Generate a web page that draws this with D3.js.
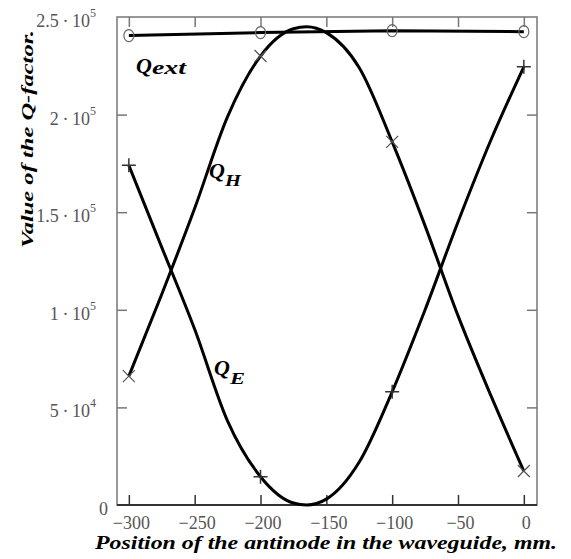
<!DOCTYPE html>
<html>
<head>
<meta charset="utf-8">
<script src="https://cdn.jsdelivr.net/npm/d3@7"></script>
<style>
	body { margin: 0; background: #fff; }
	text { font-family: "Liberation Serif", "Times New Roman", serif; }
</style>
</head>
<body>
<div></div>
<script>
var width = 571;
var height = 559;

// positions of the antinode, mm
var positions = [-300, -275, -250, -225, -200, -175, -165, -150, -125, -100, -75, -50, -25, 0];
// Q_H and Q_E
var qH = [66000, 108000, 152000, 199000, 230000, 244000, 245000, 242000, 224000, 186000, 143000, 97000, 56000, 17400];
var qE = [174000, 132000, 90000, 43000, 14500, 1000, 0, 3000, 22000, 58000, 100000, 145000, 187000, 224500];
// computed points (markers)
var markerPositions = [-300, -200, -100, 0];
var qExt = [240500, 242000, 243000, 242500];

var xTicks = [-300, -250, -200, -150, -100, -50, 0];
var yTicks = [0, 50000, 100000, 150000, 200000, 250000];
var yTickLabels = [["0", ""], ["5\u2009\u00b7\u200910", "4"], ["1\u2009\u00b7\u200910", "5"], ["1.5\u2009\u00b7\u200910", "5"], ["2\u2009\u00b7\u200910", "5"], ["2.5\u2009\u00b7\u200910", "5"]];

var plotLeft = 117, plotRight = 537, plotTop = 17, plotBottom = 505;

var svg = d3.select("div")
	.append("svg")
	.attr("width", width)
	.attr("height", height);

var x = d3.scaleLinear().domain([-309, 10]).range([plotLeft, plotRight]);
var y = d3.scaleLinear().domain([0, 250000]).range([plotBottom, plotTop]);

// frame
svg.append("rect")
	.attr("x", plotLeft)
	.attr("y", plotTop)
	.attr("width", plotRight - plotLeft)
	.attr("height", plotBottom - plotTop)
	.attr("fill", "none")
	.attr("stroke", "#777")
	.attr("stroke-width", 1.5);

var styleAxis = (g, color) => {
	g.select(".domain").remove();
	g.selectAll(".tick line").attr("stroke", color).attr("stroke-width", 1.5);
}

svg.append("g")
	.attr("transform", "translate(0," + plotBottom + ")")
	.call(d3.axisBottom(x).tickValues(xTicks).tickSizeInner(-10).tickSizeOuter(0).tickPadding(11).tickFormat(d => d === 0 ? "0" : "\u2212" + Math.abs(d)))
	.call(g => styleAxis(g, "#333"))
	.call(g => g.selectAll("text")
		.attr("font-size", 18)
		.attr("fill", "#555")
		.attr("font-family", "Liberation Serif")
		.attr("dx", 2));

svg.append("g")
	.attr("transform", "translate(0," + plotTop + ")")
	.call(d3.axisTop(x).tickValues(xTicks).tickSizeInner(-10).tickSizeOuter(0).tickFormat(""))
	.call(g => styleAxis(g, "#777"));

svg.append("g")
	.attr("transform", "translate(" + plotLeft + ",0)")
	.call(d3.axisLeft(y).tickValues(yTicks.slice(1, 5)).tickSizeInner(-10).tickSizeOuter(0).tickFormat(""))
	.call(g => styleAxis(g, "#777"));

svg.append("g")
	.attr("transform", "translate(" + plotRight + ",0)")
	.call(d3.axisRight(y).tickValues(yTicks.slice(1, 5)).tickSizeInner(-10).tickSizeOuter(0).tickFormat(""))
	.call(g => styleAxis(g, "#777"));

// bottom axis line darker
svg.append("line")
	.attr("x1", plotLeft).attr("x2", plotRight)
	.attr("y1", plotBottom).attr("y2", plotBottom)
	.attr("stroke", "#333")
	.attr("stroke-width", 2);

// y tick labels with exponents
var yLabels = svg.append("g")
	.selectAll("text")
	.data(yTicks)
	.enter()
	.append("text")
	.attr("x", (d, i) => i === 0 ? 108 : 96)
	.attr("y", d => y(d) + 10)
	.attr("text-anchor", "end")
	.attr("font-size", 18)
	.attr("fill", "#555");

yLabels.append("tspan").text((d, i) => yTickLabels[i][0]);
yLabels.append("tspan")
	.attr("font-size", 12)
	.attr("dy", -10)
	.text((d, i) => yTickLabels[i][1]);

// curves
var hPoints = positions.map((p, i) => [p, qH[i]]);
var ePoints = positions.map((p, i) => [p, qE[i]]);
var extPoints = markerPositions.map((p, i) => [p, qExt[i]]);

var line = d3.line()
	.x(d => x(d[0]))
	.y(d => y(d[1]))
	.curve(d3.curveMonotoneX);

[hPoints, ePoints].forEach(pts => {
	svg.append("path")
		.attr("d", line(pts))
		.attr("fill", "none")
		.attr("stroke", "#000")
		.attr("stroke-width", 3);
});

svg.append("path")
	.attr("d", d3.line().x(d => x(d[0])).y(d => y(d[1]))(extPoints))
	.attr("fill", "none")
	.attr("stroke", "#000")
	.attr("stroke-width", 3);

// markers
var hMarks = hPoints.filter(d => markerPositions.includes(d[0]));
var eMarks = ePoints.filter(d => markerPositions.includes(d[0]));

svg.append("g")
	.selectAll("path")
	.data(hMarks)
	.enter()
	.append("path")
	.attr("d", d => {
		var cx = x(d[0]), cy = y(d[1]), s = 6;
		return "M" + (cx - s) + "," + (cy - s) + "L" + (cx + s) + "," + (cy + s) +
			"M" + (cx - s) + "," + (cy + s) + "L" + (cx + s) + "," + (cy - s);
	})
	.attr("stroke", "#555")
	.attr("stroke-width", 1.2);

svg.append("g")
	.selectAll("path")
	.data(eMarks)
	.enter()
	.append("path")
	.attr("d", d => {
		var cx = x(d[0]), cy = y(d[1]), s = 7;
		return "M" + (cx - s) + "," + cy + "L" + (cx + s) + "," + cy +
			"M" + cx + "," + (cy - s) + "L" + cx + "," + (cy + s);
	})
	.attr("stroke", "#333")
	.attr("stroke-width", 1.5);

svg.append("g")
	.selectAll("ellipse")
	.data(extPoints)
	.enter()
	.append("ellipse")
	.attr("cx", d => x(d[0]))
	.attr("cy", d => y(d[1]))
	.attr("rx", 5)
	.attr("ry", 6)
	.attr("fill", "none")
	.attr("stroke", "#666")
	.attr("stroke-width", 1.2);

// curve labels
var curveLabel = (px, py, sub, subLen, subDy, subSize) => {
	var t = svg.append("text")
		.attr("x", px)
		.attr("y", py)
		.attr("font-style", "italic")
		.attr("font-weight", "bold")
		.attr("font-size", 22);
	t.append("tspan").text("Q");
	t.append("tspan")
		.attr("dy", subDy)
		.attr("font-size", subSize)
		.attr("textLength", subLen)
		.attr("lengthAdjust", "spacingAndGlyphs")
		.text(sub);
}

curveLabel(136, 73, "ext", 34, 1, 19);
curveLabel(209, 178, "H", 16, 8, 16);
curveLabel(214, 375, "E", 15, 9, 16);

// axis titles
svg.append("text")
	.attr("x", 95)
	.attr("y", 549)
	.attr("font-size", 18)
	.attr("font-weight", "bold")
	.attr("font-style", "italic")
	.attr("textLength", 462)
	.attr("lengthAdjust", "spacingAndGlyphs")
	.text("Position of the antinode in the waveguide, mm.");

svg.append("text")
	.attr("transform", "translate(33,248) rotate(-90)")
	.attr("font-size", 17)
	.attr("font-weight", "bold")
	.attr("font-style", "italic")
	.attr("textLength", 218)
	.attr("lengthAdjust", "spacingAndGlyphs")
	.text("Value of the Q-factor.");
</script>
</body>
</html>
